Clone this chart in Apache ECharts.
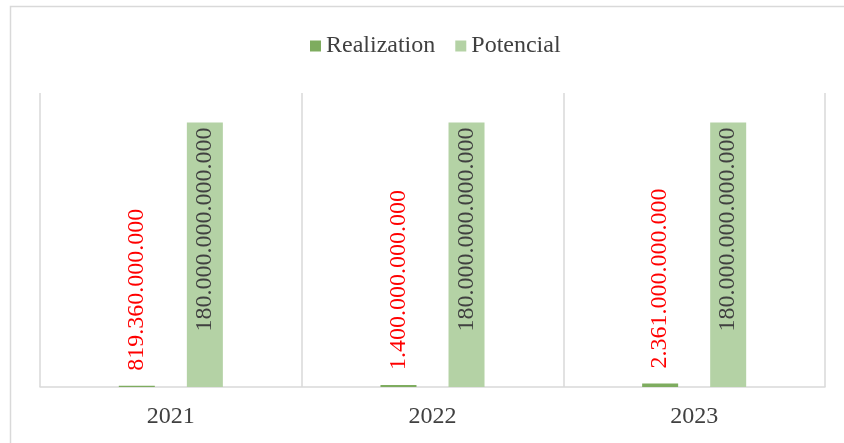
<!DOCTYPE html>
<html>
<head>
<meta charset="utf-8">
<script src="https://cdn.jsdelivr.net/npm/echarts@6/dist/echarts.min.js"></script>
<style>
  html, body { margin: 0; padding: 0; background: #fff; }
  #chart { width: 844px; height: 443px; }
</style>
</head>
<body>
<div id="chart"></div>
<script>
const years = ['2021', '2022', '2023'];
const realization = [819360000000, 1400000000000, 2361000000000];
const potencial = [180000000000000, 180000000000000, 180000000000000];

const colors = ['#7eac5f', '#b4d2a5'];
const font = '"Liberation Serif", "Times New Roman", serif';

// thousands separated by dots
function dots(v) {
  return String(v).replace(/\B(?=(\d{3})+(?!\d))/g, '.');
}

const chart = echarts.init(document.getElementById('chart'));

const option = {
  animation: false,
  color: colors,
  textStyle: {fontFamily: font},
  graphic: [{
    type: 'rect',
    shape: {x: 10.5, y: 6.5, width: 900, height: 500},
    style: {fill: 'none', stroke: '#d9d9d9', lineWidth: 1.5},
    silent: true
  }],
  legend: {
    data: ['Realization', 'Potencial'],
    left: 305,
    top: 29,
    itemWidth: 11,
    itemHeight: 11,
    itemGap: 20,
    icon: 'rect',
    textStyle: {fontFamily: font, fontSize: 24, color: '#404040'}
  },
  grid: {
    left: 40,
    right: 19,
    top: 93,
    bottom: 56
  },
  xAxis: {
    type: 'category',
    data: years,
    axisTick: {show: false},
    axisLine: {lineStyle: {color: '#d9d9d9', width: 1.5}},
    splitLine: {show: true, lineStyle: {color: '#d9d9d9', width: 1.5}},
    axisLabel: {
      margin: 18,
      fontFamily: font,
      fontSize: 24,
      color: '#404040'
    }
  },
  yAxis: {
    type: 'value',
    min: 0,
    max: 200000000000000,
    show: false,
    splitLine: {show: false}
  },
  series: [
    {
      name: 'Realization',
      type: 'bar',
      data: realization,
      barWidth: 36,
      barGap: '89%',
      label: {
        show: true,
        position: 'top',
        rotate: 90,
        align: 'left',
        verticalAlign: 'middle',
        distance: 15,
        fontFamily: font,
        fontSize: 24,
        color: '#ff0000',
        formatter: p => dots(p.value)
      }
    },
    {
      name: 'Potencial',
      type: 'bar',
      data: potencial,
      barWidth: 36,
      label: {
        show: true,
        position: 'insideTop',
        rotate: 90,
        align: 'right',
        verticalAlign: 'middle',
        distance: 5,
        fontFamily: font,
        fontSize: 24,
        color: '#404040',
        formatter: p => dots(p.value)
      }
    }
  ]
};

chart.setOption(option);
</script>
</body>
</html>
